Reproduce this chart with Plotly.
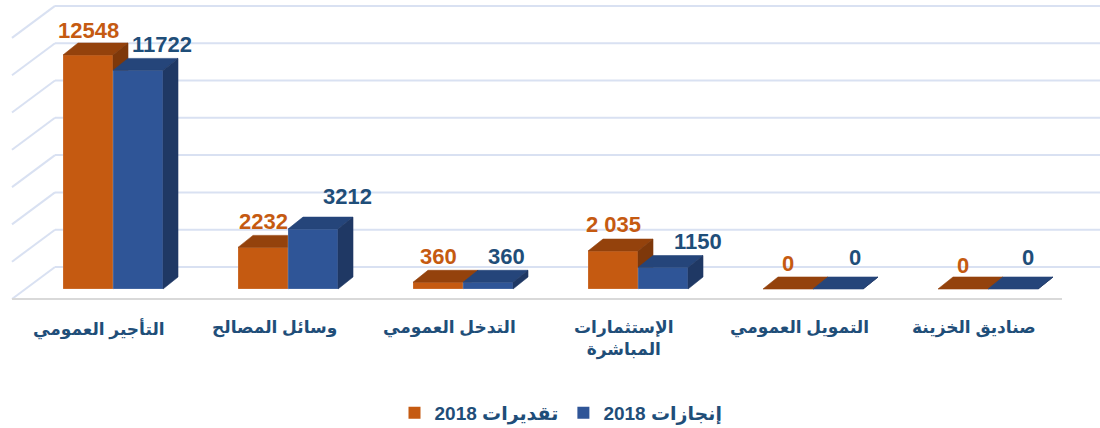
import plotly.graph_objects as go

# data
categories = ["التأجير العمومي", "وسائل المصالح", "التدخل العمومي",
              "الإستثمارات<br>المباشرة", "التمويل العمومي", "صناديق الخزينة"]
estimates_2018 = [12548, 2232, 360, 2035, 0, 0]
actuals_2018 = [11722, 3212, 360, 1150, 0, 0]
estimate_labels = ["12548", "2232", "360", "2 035", "0", "0"]
actual_labels = ["11722", "3212", "360", "1150", "0", "0"]
grid_values = [0, 2000, 4000, 6000, 8000, 10000, 12000, 14000]

W, H = 1100, 428
PX = 234 / 12548          # pixels per unit on the value axis
PLOT_BOTTOM = 300         # pixel row of the y domain bottom
Y0 = -11 / PX             # value 0 sits 11px above the domain bottom
Y1 = Y0 + PLOT_BOTTOM / PX
BAR_W = 50 / 175          # one bar = 50px, one category = 175px
DX = 15 / 175             # depth offset of the 3d faces
DY = 12 / PX
GRID_SHIFT = 22 / PX      # back wall sits higher than the bar fronts
WALL = 32 / PX

ORANGE = ("#C55A11", "#94420C", "#7E380A")
BLUE = ("#2F5597", "#25457A", "#1F3864")
FONT = "Arial, 'DejaVu Sans', sans-serif"
TXT_BLUE = "#1F4E79"

xs = list(range(len(categories)))
x_est = [x - BAR_W / 2 for x in xs]
x_act = [x + BAR_W / 2 for x in xs]

fig = go.Figure()
fig.add_bar(x=x_est, y=estimates_2018, width=BAR_W, name="<b>2018 تقديرات</b>",
            marker={"color": ORANGE[0], "line": {"width": 0}}, hoverinfo="skip")
fig.add_bar(x=x_act, y=actuals_2018, width=BAR_W, name="<b>2018 إنجازات</b>",
            marker={"color": BLUE[0], "line": {"width": 0}}, hoverinfo="skip")


def face(px, py, color, edge=None):
    fig.add_trace(go.Scatter(x=px, y=py, fill="toself", fillcolor=color, mode="lines",
                             line={"width": 0.6, "color": edge or color}, showlegend=False,
                             hoverinfo="skip"))


# painter's order: estimates first, then actuals on top
for centers, values, cols in ((x_est, estimates_2018, ORANGE), (x_act, actuals_2018, BLUE)):
    for c, v in zip(centers, values):
        xl, xr = c - BAR_W / 2, c + BAR_W / 2
        face([xl, xr, xr, xl, xl], [0, 0, v, v, 0], cols[0], "rgba(255,255,255,0.35)")
        face([xl, xr, xr + DX, xl + DX, xl], [v, v, v + DY, v + DY, v], cols[1])
        face([xr, xr + DX, xr + DX, xr, xr], [0, DY, v + DY, v, 0], cols[2])

# back wall grid + left wall diagonals + floor front edge
shapes = []
grid_col = "#D9E1F2"
for g in grid_values:
    yg = g + GRID_SHIFT
    shapes.append(dict(type="line", xref="paper", yref="y", x0=55 / W, x1=1, y0=yg, y1=yg,
                       line={"color": grid_col, "width": 2}, layer="below"))
    shapes.append(dict(type="line", xref="paper", yref="y", x0=12 / W, x1=55 / W,
                       y0=yg - WALL, y1=yg, line={"color": grid_col, "width": 2}, layer="below"))
shapes.append(dict(type="line", xref="paper", yref="y", x0=12 / W, x1=1062 / W,
                   y0=GRID_SHIFT - WALL, y1=GRID_SHIFT - WALL,
                   line={"color": "#D9D9D9", "width": 2}, layer="below"))

annotations = []
est_dy = [25, 26, 26, 27, 26, 24]
act_dx = [24, 34, 18, 35, 17, 15]
act_dy = [26, 33, 26, 26, 32, 32]
for i in xs:
    annotations.append(dict(x=x_est[i], y=estimates_2018[i], text="<b>%s</b>" % estimate_labels[i],
                            showarrow=False, yshift=est_dy[i], yanchor="middle",
                            font={"size": 22, "color": "#C55A11", "family": FONT}))
    annotations.append(dict(x=x_act[i], y=actuals_2018[i], text="<b>%s</b>" % actual_labels[i],
                            showarrow=False, xshift=act_dx[i], yshift=act_dy[i], yanchor="middle",
                            font={"size": 22, "color": TXT_BLUE, "family": FONT}))
    annotations.append(dict(x=i, xref="x", y=1 - 316 / H, yref="paper", text="<b>%s</b>" % categories[i],
                            showarrow=False, xshift=-14, yanchor="top",
                            font={"size": 17, "color": TXT_BLUE, "family": FONT}))

fig.update_layout(
    width=W, height=H,
    margin={"l": 0, "r": 0, "t": 0, "b": 0, "autoexpand": False},
    paper_bgcolor="white", plot_bgcolor="white",
    barmode="overlay",
    hovermode=False,
    shapes=shapes,
    annotations=annotations,
    xaxis={"domain": [25.5 / W, 1075.5 / W], "range": [-0.5, 5.5], "showgrid": False,
           "zeroline": False, "showticklabels": False, "fixedrange": True},
    yaxis={"domain": [1 - PLOT_BOTTOM / H, 1], "range": [Y0, Y1], "showgrid": False,
           "zeroline": False, "showticklabels": False, "fixedrange": True},
    legend={"orientation": "h", "x": 0.51, "xanchor": "center", "y": 1 - 413 / H,
            "yanchor": "middle", "font": {"size": 19, "color": TXT_BLUE, "family": FONT},
            "traceorder": "normal"},
)

# drop the default 8px page margin so the figure sits at the window's corner
fig.write_html("out.html", config={"displayModeBar": False},
               post_script="document.body.style.margin='0';")
